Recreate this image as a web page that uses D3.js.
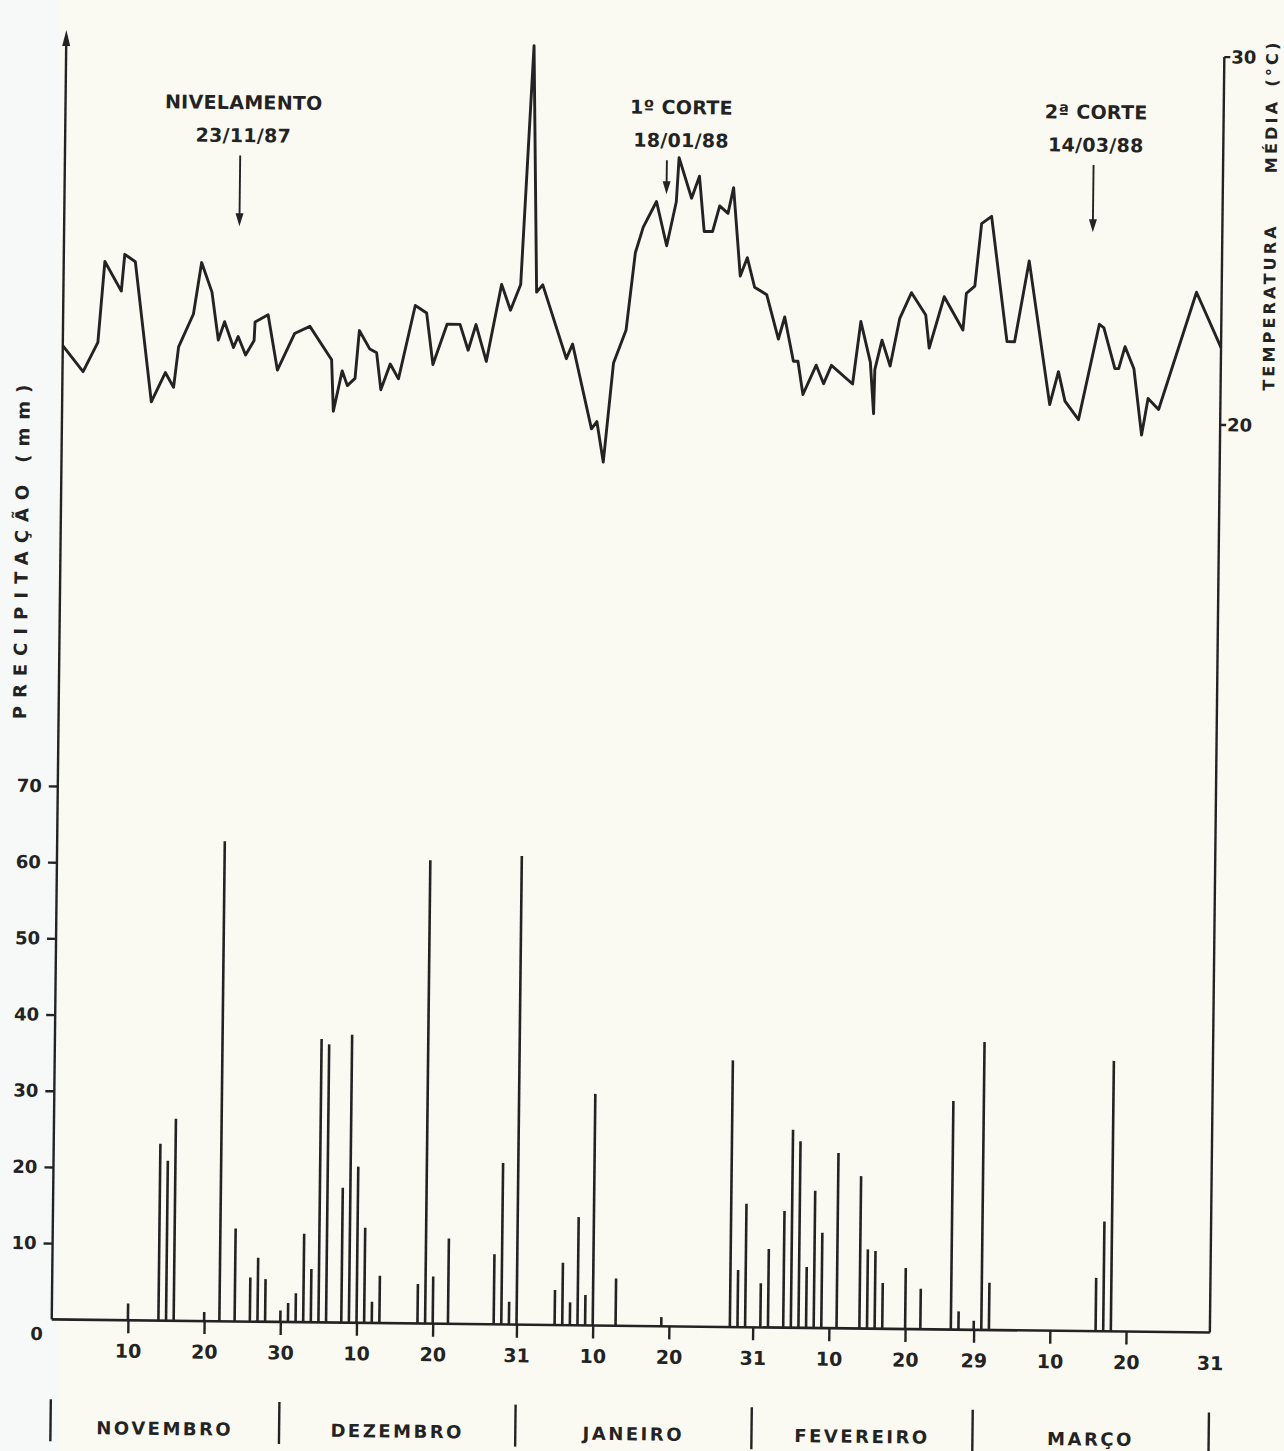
<!DOCTYPE html>
<html><head><meta charset="utf-8">
<script src="https://cdn.jsdelivr.net/npm/d3@7"></script>
<style>
html,body{margin:0;padding:0;background:#fbfaf2;}
svg{display:block;}
</style></head><body>
<svg id="chart" width="1284" height="1451"></svg>
<script>
// ---- DATA ----
// Days counted from 31 Oct 1987 (day 1 = 1 Nov 1987 ... day 152 = 31 Mar 1988)
const precipDays = [10,14,15,16,20,22,24,26,27,28,30,31,32,33,34,35,36,38,39,40,41,42,43,48,49,50,52,58,59,60,61,
  66,67,68,69,70,71,74,80,89,90,91,93,94,96,97,98,99,100,101,103,106,107,108,109,112,114,118,119,121,122,123,137,138,139];
const precipMM = [2.2,23.2,21.0,26.5,1.2,63.0,12.2,5.8,8.4,5.6,1.5,2.5,3.8,11.6,7.0,37.2,36.5,17.7,37.8,20.5,12.5,2.8,6.2,5.2,60.8,6.2,11.2,9.2,21.2,3.0,61.5,
  4.6,8.2,3.0,14.2,4.0,30.4,6.2,1.2,35.0,7.5,16.2,5.8,10.3,15.3,26.0,24.5,8.0,18.0,12.5,23.0,20.0,10.4,10.2,6.0,8.0,5.3,30.0,2.4,1.2,37.8,6.2,7.0,14.4,35.5];

// Mean temperature line: vertex positions (day) and values (°C)
const tempDays = [0,2.7,4.6,5.4,7.6,8.0,9.4,11.7,13.5,14.6,15.2,17.1,18.1,19.5,20.4,21.2,22.4,23.0,24.0,25.1,25.2,26.9,28.2,30.4,32.4,35.3,35.6,36.7,37.4,38.4,38.9,
  40.3,41.2,41.8,43.0,44.1,46.2,47.7,48.6,50.4,52.1,53.2,54.2,55.6,57.5,58.7,60.0,61.4,62.1,62.9,66.1,66.9,69.5,70.2,71.1,72.3,73.9,75.0,76.0,77.7,79.1,80.3,80.6,
  82.3,83.3,84.0,85.1,86.0,87.1,87.8,88.8,89.7,90.7,92.3,93.9,94.7,95.9,96.5,97.2,98.9,99.9,100.9,103.7,104.7,106.0,106.5,106.6,107.5,108.6,109.8,111.3,113.2,113.7,
  115.6,118.1,118.5,119.6,120.4,121.7,123.9,124.9,126.7,129.6,130.7,131.6,133.4,136.0,136.6,138.1,138.6,139.4,140.6,141.7,142.5,143.9,148.7,152];
const tempC = [21.8,21.1,21.9,24.1,23.3,24.3,24.1,20.3,21.1,20.7,21.8,22.7,24.1,23.3,22.0,22.5,21.8,22.1,21.6,22.0,22.5,22.7,21.2,22.2,22.4,21.5,20.1,21.2,20.8,21.0,22.3,
  21.8,21.7,20.7,21.4,21.0,23.0,22.8,21.4,22.5,22.5,21.8,22.5,21.5,23.6,22.9,23.6,30.1,23.4,23.6,21.6,22.0,19.7,19.9,18.8,21.5,22.4,24.5,25.2,25.9,24.7,25.9,27.1,
  26.0,26.6,25.1,25.1,25.8,25.6,26.3,23.9,24.4,23.6,23.4,22.2,22.8,21.6,21.6,20.7,21.5,21.0,21.5,21.0,22.7,21.6,20.2,21.4,22.2,21.5,22.8,23.5,22.9,22.0,
  23.4,22.5,23.5,23.7,25.4,25.6,22.2,22.2,24.4,20.5,21.4,20.6,20.1,22.7,22.6,21.5,21.5,22.1,21.5,19.7,20.7,20.4,23.6,22.1];

const dayTicks = [10,20,30,40,50,61,71,81,92,102,112,121,131,141,152];
const dayTickLabels = ["10","20","30","10","20","31","10","20","31","10","20","29","10","20","31"];
const monthNames = ["NOVEMBRO","DEZEMBRO","JANEIRO","FEVEREIRO","MARÇO"];
const monthBounds = [0,30,61,92,121,152];
const precipTicks = [0,10,20,30,40,50,60,70];
const tempTicks = [20,30];
const eventTitles = ["NIVELAMENTO","1º CORTE","2ª CORTE"];
const eventDates = ["23/11/87","18/01/88","14/03/88"];
const eventDays = [23,79,135];

// ---- LAYOUT ----
const eventTipTemp = [25.1,26.1,25.2];
const eventLabelDx = [3,14,2];
const ink = "#232323";
const font = "'DejaVu Sans', sans-serif";

const svg = d3.select("#chart");
svg.append("rect").attr("width",1284).attr("height",1451).attr("fill","#fbfaf2");
svg.append("rect").attr("x",0).attr("width",60).attr("height",1451).attr("fill","#f6f9f8");

const g = svg.append("g").attr("transform","rotate(0.65,640,700)");

const x = d3.scaleLinear().domain([0,152]).range([58.8,1217]);
const yP = d3.scaleLinear().domain([0,70]).range([1326,792.6]);
const yT = d3.scaleLinear().domain([20,30]).range([418.4,50.5]);

// precipitation bars
g.append("g").selectAll("line").data(precipDays).join("line")
  .attr("x1",d=>x(d)).attr("x2",d=>x(d))
  .attr("y1",yP(0)).attr("y2",(d,i)=>yP(precipMM[i]))
  .attr("stroke",ink).attr("stroke-width",2.6);

// temperature line
const line = d3.line().x(d=>x(d[0])).y(d=>yT(d[1]));
g.append("path").datum(d3.zip(tempDays,tempC)).attr("d",line)
  .attr("fill","none").attr("stroke",ink).attr("stroke-width",2.9)
  .attr("stroke-linejoin","round");

// baseline
g.append("line").attr("x1",x(0)).attr("x2",x(152)).attr("y1",yP(0)).attr("y2",yP(0))
  .attr("stroke",ink).attr("stroke-width",2.6);

// left axis with arrow
const topY = yT(30)-14;
g.append("line").attr("x1",x(0)).attr("x2",x(0)).attr("y1",yP(0)).attr("y2",topY+6)
  .attr("stroke",ink).attr("stroke-width",2.4);
g.append("path").attr("d",`M${x(0)},${topY} L${x(0)-4},${topY+16} L${x(0)+4},${topY+16} Z`)
  .attr("fill",ink);

const axL = d3.axisLeft(yP).tickValues(precipTicks).tickSize(9).tickPadding(7).tickFormat(d3.format("d"));
const gl = g.append("g").attr("transform",`translate(${x(0)},0)`).call(axL);
gl.select(".domain").remove();
gl.attr("font-family",font).attr("font-size",18).attr("font-weight","bold").attr("color",ink);
gl.selectAll(".tick line").attr("stroke-width",2.4);
const zeroTick = gl.selectAll(".tick").filter(d=>d===0);
zeroTick.select("line").remove();
zeroTick.select("text").attr("x",-15).attr("y",14).attr("dy","0.35em").attr("text-anchor","middle");

// bottom axis
const axB = d3.axisBottom(x).tickValues(dayTicks).tickFormat((d,i)=>dayTickLabels[i]).tickSize(13).tickPadding(11);
const gb = g.append("g").attr("transform",`translate(0,${yP(0)})`).call(axB);
gb.select(".domain").remove();
gb.attr("font-family",font).attr("font-size",19).attr("font-weight","bold").attr("color",ink);
gb.selectAll(".tick line").attr("stroke-width",2.4);
gb.selectAll(".tick").filter(d=>d===152).select("line").remove();

// right axis (temperature) full height border
g.append("line").attr("x1",x(152)).attr("x2",x(152)).attr("y1",yT(30)).attr("y2",yP(0))
  .attr("stroke",ink).attr("stroke-width",2.4);
const gr = g.append("g").attr("transform",`translate(${x(152)},0)`);
gr.selectAll("line").data(tempTicks).join("line")
  .attr("x1",0).attr("x2",6).attr("y1",d=>yT(d)).attr("y2",d=>yT(d))
  .attr("stroke",ink).attr("stroke-width",2.4);
gr.selectAll("text").data(tempTicks).join("text")
  .attr("x",7).attr("y",d=>yT(d)).attr("dy","0.35em")
  .attr("font-family",font).attr("font-size",18).attr("font-weight","bold").attr("fill",ink)
  .text(d=>d);

// month row
const monthY = 1434;
g.append("g").selectAll("line").data(monthBounds).join("line")
  .attr("x1",d=>x(d)).attr("x2",d=>x(d)).attr("y1",monthY-28).attr("y2",monthY+14)
  .attr("stroke",ink).attr("stroke-width",2.4);
g.append("g").selectAll("text").data(monthNames).join("text")
  .attr("x",(d,i)=>(x(monthBounds[i])+x(monthBounds[i+1]))/2)
  .attr("y",monthY).attr("dy","0.35em").attr("text-anchor","middle")
  .attr("font-family",font).attr("font-size",18).attr("font-weight","bold")
  .attr("letter-spacing",2.5).attr("fill",ink).text(d=>d);

// axis titles
const lt = g.append("text").attr("transform",`translate(20,555) rotate(-90)`)
  .attr("text-anchor","middle").attr("dy","0.35em")
  .attr("font-family",font).attr("font-size",18).attr("font-weight","bold")
  .attr("letter-spacing",8).attr("fill",ink);
lt.append("tspan").text("PRECIPITAÇÃO");
lt.append("tspan").attr("dx",14).text("(mm)");

const rt = g.append("text").attr("transform",`translate(1265,208) rotate(-90)`)
  .attr("text-anchor","middle").attr("dy","0.35em")
  .attr("font-family",font).attr("font-size",16).attr("font-weight","bold")
  .attr("letter-spacing",3.2).attr("fill",ink);
rt.append("tspan").text("TEMPERATURA");
rt.append("tspan").attr("dx",50).text("MÉDIA");
rt.append("tspan").attr("dx",12).text("(°C)");

// event annotations
const ev = g.append("g").selectAll("g").data(eventDays).join("g");
ev.append("text").attr("x",(d,i)=>x(d)+eventLabelDx[i]).attr("y",107).attr("dy","0.35em")
  .attr("text-anchor","middle").attr("font-family",font).attr("font-size",19).attr("font-weight","bold")
  .attr("letter-spacing",0.3).attr("fill",ink).text((d,i)=>eventTitles[i]);
ev.append("text").attr("x",(d,i)=>x(d)+eventLabelDx[i]).attr("y",140).attr("dy","0.35em")
  .attr("text-anchor","middle").attr("font-family",font).attr("font-size",19).attr("font-weight","bold")
  .attr("letter-spacing",0.3).attr("fill",ink).text((d,i)=>eventDates[i]);
ev.append("line").attr("x1",d=>x(d)).attr("x2",d=>x(d)).attr("y1",160).attr("y2",(d,i)=>yT(eventTipTemp[i])-10)
  .attr("stroke",ink).attr("stroke-width",1.9);
ev.append("path").attr("d",(d,i)=>{const tx=x(d), ty=yT(eventTipTemp[i]);
  return `M${tx},${ty} L${tx-4},${ty-13} L${tx+4},${ty-13} Z`;}).attr("fill",ink);
</script>
</body></html>
